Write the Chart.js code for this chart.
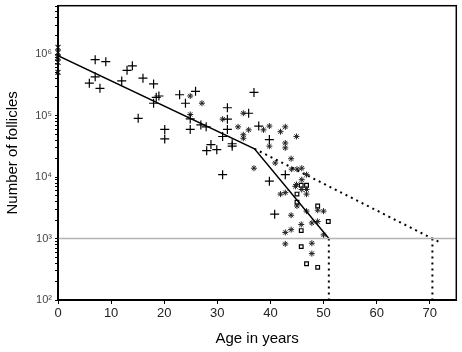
<!DOCTYPE html>
<html>
<head>
<meta charset="utf-8">
<script src="https://cdn.jsdelivr.net/npm/chart.js@4/dist/chart.umd.min.js"></script>
<style>
  body { margin: 0; background: #fff; }
  #wrap { width: 462px; height: 352px; }
</style>
</head>
<body>
<div id="wrap"><canvas id="follicleChart" width="462" height="352"></canvas></div>
<script>
// newborn counts (x markers at age 0)
const newbornAges = [0, 0, 0, 0, 0];
const newbornCounts = [1.3e6, 1.07e6, 8.9e5, 7.4e5, 5.1e5];

// histology counts (+ markers)
const crossAges = [7.0, 9.0, 5.9, 7.0, 7.9, 12.0, 13.0, 14.0, 16.0, 18.0, 18.0, 18.5, 19.0, 15.1, 20.1, 20.1,
    22.9, 24.0, 25.9, 24.9, 24.9, 26.9, 27.9, 31.9, 31.9, 31.9, 31.0, 32.8, 32.8, 28.8, 28.0, 29.9,
    31.0, 35.9, 36.9, 37.8, 39.8, 42.8, 39.8, 40.8];
const crossCounts = [8.2e5, 7.6e5, 3.4e5, 4.3e5, 2.8e5, 3.7e5, 5.5e5, 6.5e5, 4.1e5, 3.3e5, 1.6e5, 2.0e5, 2.1e5, 9.1e4, 6.0e4, 4.2e4,
    2.2e5, 1.6e5, 2.5e5, 8.9e4, 6.0e4, 7.1e4, 6.6e4, 8.8e4, 1.35e5, 6.0e4, 4.6e4, 3.5e4, 3.2e4, 3.4e4, 2.7e4, 2.8e4,
    1.1e4, 1.1e5, 2.4e5, 6.8e4, 4.1e4, 1.1e4, 8.6e3, 2.5e3];

// second study (* markers)
const starAges = [24.9, 27.1, 24.9, 31.0, 33.9, 34.9, 34.9, 34.9, 35.9, 38.7, 39.8, 39.8, 41.9, 42.8, 42.8, 42.8,
    44.9, 40.9, 43.9, 44.0, 45.0, 45.9, 46.8, 36.9, 45.9, 41.9, 42.8, 44.7, 44.9, 45.9, 46.8, 46.8,
    45.0, 43.9, 45.8, 43.9, 42.8, 42.8, 46.8, 48.9, 50.0, 48.9, 47.8, 50.0, 47.8, 47.8];
const starCounts = [2.1e5, 1.6e5, 1.05e5, 8.8e4, 6.6e4, 4.9e4, 4.3e4, 1.1e5, 5.9e4, 5.9e4, 6.8e4, 3.2e4, 5.5e4, 6.6e4, 3.6e4, 3.0e4,
    4.6e4, 1.7e4, 2.0e4, 1.35e4, 1.35e4, 1.4e4, 1.1e4, 1.4e4, 9.1e3, 5.3e3, 5.6e3, 7.1e3, 7.6e3, 6.3e3, 6.3e3, 5.3e3,
    3.4e3, 2.4e3, 1.7e3, 1.4e3, 1.26e3, 820, 2.8e3, 2.9e3, 2.8e3, 1.9e3, 1.8e3, 1.15e3, 840, 570];

// third study (square markers)
const squareAges = [45.8, 46.8, 45.0, 45.0, 48.9, 50.9, 45.8, 45.8, 46.8, 48.9];
const squareCounts = [7.4e3, 7.4e3, 5.3e3, 3.9e3, 3.4e3, 1.9e3, 1.35e3, 740, 390, 340];

// fitted decline and extrapolation
const fitAges = [0, 37, 51];
const fitCounts = [9.5e5, 2.9e4, 1000];
const extrapAges = [37, 70.5, 72];
const extrapCounts = [2.9e4, 1000, 860];
const menopauseAges = [51, 70.5];
const menopauseLevel = 1000;

const yTicks = [100, 1000, 10000, 100000, 1000000];
const sup = { '2': '\u00b2', '3': '\u00b3', '4': '\u2074', '5': '\u2075', '6': '\u2076' };

function toPoints(xs, ys) {
    return xs.map((x, i) => ({ x: x, y: ys[i] }));
}

const datasets = [
    {
        data: [{ x: 0, y: menopauseLevel }, { x: 75, y: menopauseLevel }],
        showLine: true, borderColor: '#b4b4b4', borderWidth: 1.5, pointRadius: 0
    },
    {
        data: toPoints(fitAges, fitCounts),
        showLine: true, borderColor: '#000', borderWidth: 1.5, pointRadius: 0
    },
    {
        data: toPoints(extrapAges, extrapCounts),
        showLine: true, borderColor: '#000', borderWidth: 2, borderDash: [2, 4], pointRadius: 0
    }
];

menopauseAges.forEach(age => {
    datasets.push({
        data: [{ x: age, y: menopauseLevel }, { x: age, y: 100 }],
        showLine: true, borderColor: '#000', borderWidth: 2, borderDash: [2, 4], pointRadius: 0
    });
});

datasets.push(
    {
        data: toPoints(newbornAges, newbornCounts), clip: false,
        pointStyle: 'crossRot', pointRadius: 3.5, borderColor: '#222', borderWidth: 1.2
    },
    {
        data: toPoints(crossAges, crossCounts),
        pointStyle: 'cross', pointRadius: 4.5, borderColor: '#000', borderWidth: 1.2
    },
    {
        data: toPoints(starAges, starCounts),
        pointStyle: 'star', pointRadius: 3, borderColor: '#222', borderWidth: 1
    },
    {
        data: toPoints(squareAges, squareCounts),
        pointStyle: 'rect', pointRadius: 2.6, borderColor: '#000', backgroundColor: '#fff', borderWidth: 1.2
    }
);

const frame = {
    id: 'frame',
    afterDraw(chart) {
        const a = chart.chartArea;
        const ctx = chart.ctx;
        ctx.save();
        ctx.strokeStyle = '#000';
        ctx.lineWidth = 1.5;
        ctx.strokeRect(a.left, a.top, a.right - a.left, a.bottom - a.top);
        ctx.restore();
    }
};

new Chart(document.getElementById('follicleChart'), {
    type: 'scatter',
    data: { datasets: datasets },
    plugins: [frame],
    options: {
        responsive: false,
        animation: false,
        layout: { padding: { top: 1, right: 3 } },
        plugins: { legend: { display: false }, tooltip: { enabled: false } },
        scales: {
            x: {
                type: 'linear',
                min: 0,
                max: 75,
                afterBuildTicks: scale => {
                    scale.ticks = [0, 10, 20, 30, 40, 50, 60, 70].map(v => ({ value: v }));
                },
                afterFit: scale => {
                    scale.height = 52;
                    scale.paddingRight = 0;
                },
                border: { color: '#000', width: 2 },
                grid: { drawOnChartArea: false, tickLength: 4, color: '#000' },
                ticks: { color: '#222', font: { family: 'Liberation Sans', size: 13 }, padding: 2, maxRotation: 0 },
                title: { display: true, text: 'Age in years', color: '#000', font: { family: 'Liberation Sans', size: 15 }, padding: { top: 4 } }
            },
            y: {
                type: 'logarithmic',
                min: 100,
                max: 6.2e6,
                afterBuildTicks: scale => {
                    const t = [];
                    for (let e = 2; e <= 6; e++) {
                        for (let m = 1; m <= 9; m++) {
                            const v = m * Math.pow(10, e);
                            if (v <= 6.2e6) t.push({ value: v });
                        }
                    }
                    scale.ticks = t;
                },
                afterFit: scale => {
                    scale.width = 58;
                    scale.paddingTop = 0;
                    scale.paddingBottom = 0;
                },
                border: { color: '#000', width: 2 },
                grid: { drawOnChartArea: false, tickLength: 3, color: '#000' },
                ticks: {
                    autoSkip: false,
                    color: '#444',
                    font: { family: 'Liberation Sans', size: 11 },
                    padding: 3,
                    callback: value => {
                        const i = yTicks.indexOf(value);
                        if (i < 0) return '';
                        return '10' + sup[String(i + 2)];
                    }
                },
                title: { display: true, text: 'Number of follicles', color: '#000', font: { family: 'Liberation Sans', size: 15 }, padding: { bottom: 2 } }
            }
        }
    }
});
</script>
</body>
</html>
